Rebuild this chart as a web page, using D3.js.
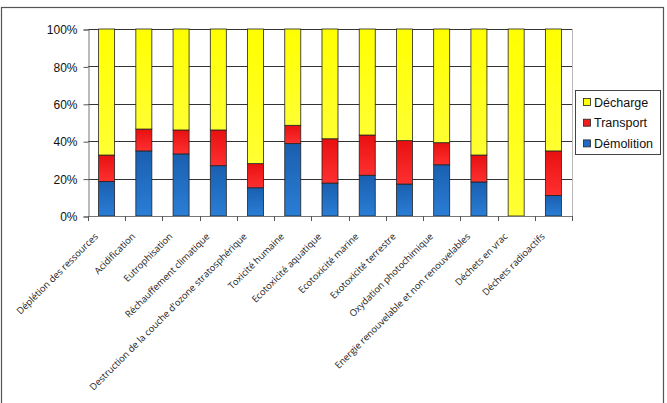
<!DOCTYPE html>
<html lang="fr">
<head>
<meta charset="UTF-8">
<title>Répartition des impacts</title>
<style>
    body {
        margin: 0;
        background: white;
    }
    svg text {
        fill: #111;
    }
    .ylab text {
        font-family: 'Liberation Sans', Arial, sans-serif;
        font-size: 12px;
    }
    .xlab text {
        font-family: 'Open Sans', sans-serif;
        font-size: 9.4px;
        fill: #222;
    }
    .legend text {
        font-family: 'Liberation Sans', Arial, sans-serif;
        font-size: 12.5px;
    }
</style>
</head>
<body>
<div id="chart"></div>
<script src="https://d3js.org/d3.v7.min.js"></script>
<script>
    const width = 667, height = 403;

    // impact categories
    const categories = [
        "Déplétion des ressources",
        "Acidification",
        "Eutrophisation",
        "Réchauffement climatique",
        "Destruction de la couche d'ozone stratosphérique",
        "Toxicité humaine",
        "Ecotoxicité aquatique",
        "Ecotoxicité marine",
        "Exotoxicité terrestre",
        "Oxydation photochimique",
        "Energie renouvelable et non renouvelables",
        "Déchets en vrac",
        "Déchets radioactifs"
    ];
    // shares in %
    const demolition = [18.5, 34.8, 33.2, 26.9, 15.1, 38.7, 17.6, 21.8, 17.1, 27.4, 18.2, 0, 11.0];
    const transport  = [14.1, 11.7, 12.8, 19.1, 12.9, 9.8, 23.7, 21.5, 23.2, 11.8, 14.4, 0, 23.8];
    const decharge   = [67.4, 53.5, 54.0, 54.0, 72.0, 51.5, 58.7, 56.7, 59.7, 60.8, 67.4, 100, 65.2];
    const yTicks = [0, 20, 40, 60, 80, 100];

    const seriesNames = ["Démolition", "Transport", "Décharge"];
    const colors = {"Démolition": "#1f6cc4", "Transport": "#f21e1e", "Décharge": "#ffff00"};

    const rows = categories.map((c, i) => ({
        cat: c,
        "Démolition": demolition[i],
        "Transport": transport[i],
        "Décharge": decharge[i]
    }));

    const plot = {left: 88, right: 572, top: 29, bottom: 216};

    const svg = d3.select("#chart").append("svg")
        .attr("width", width)
        .attr("height", height);

    const defs = svg.append("defs");
    const grads = {
        "Démolition": ["#1a5fb0", "#2a7ed6"],
        "Transport": ["#e81010", "#ff3030"],
        "Décharge": ["#ffff00", "#ffff33"]
    };
    seriesNames.forEach((s, i) => {
        const g = defs.append("linearGradient")
            .attr("id", "grad" + i)
            .attr("x1", 0).attr("y1", 0).attr("x2", 0).attr("y2", 1);
        g.append("stop").attr("offset", "0%").attr("stop-color", grads[s][0]);
        g.append("stop").attr("offset", "100%").attr("stop-color", grads[s][1]);
    });

    // outer frame
    svg.append("rect")
        .attr("x", 1.5).attr("y", 7.5)
        .attr("width", 662).attr("height", 400)
        .attr("fill", "white")
        .attr("stroke", "#555")
        .attr("stroke-width", 1.2);

    const x = d3.scaleBand()
        .domain(categories)
        .range([plot.left, plot.right])
        .paddingInner(0.57)
        .paddingOuter(0.285);

    const y = d3.scaleLinear()
        .domain([0, 100])
        .range([plot.bottom, plot.top]);

    // plot area border (right side is light)
    svg.append("line")
        .attr("x1", plot.right + 0.5).attr("x2", plot.right + 0.5)
        .attr("y1", plot.top).attr("y2", plot.bottom)
        .attr("stroke", "#bbb");

    // gridlines
    svg.append("g")
        .selectAll("line")
        .data(yTicks.filter(t => t > 0))
        .join("line")
        .attr("x1", plot.left).attr("x2", plot.right)
        .attr("y1", d => Math.round(y(d)) + 0.5)
        .attr("y2", d => Math.round(y(d)) + 0.5)
        .attr("stroke", "#333")
        .attr("stroke-width", 1);

    // y axis
    const yAxis = svg.append("g")
        .attr("class", "ylab")
        .attr("transform", `translate(${plot.left + 0.5},0.5)`)
        .call(d3.axisLeft(y).tickValues(yTicks).tickFormat(d => d + "%").tickSize(5).tickPadding(6));
    yAxis.select(".domain").attr("stroke", "#777");
    yAxis.selectAll(".tick line").attr("stroke", "#555");
    yAxis.selectAll(".tick text").attr("dy", "0.35em");

    // stacked bars
    const stack = d3.stack().keys(seriesNames)(rows);

    svg.append("g")
        .selectAll("g")
        .data(stack)
        .join("g")
        .attr("fill", (d, i) => `url(#grad${i})`)
        .selectAll("rect")
        .data(d => d.filter(p => p[1] - p[0] > 0))
        .join("rect")
        .attr("x", d => x(d.data.cat))
        .attr("y", d => y(d[1]))
        .attr("width", x.bandwidth())
        .attr("height", d => y(d[0]) - y(d[1]))
        .attr("stroke", "#222")
        .attr("stroke-width", 0.8);

    // x axis line and ticks between categories
    const xg = svg.append("g");
    xg.append("line")
        .attr("x1", plot.left).attr("x2", plot.right)
        .attr("y1", plot.bottom + 0.5).attr("y2", plot.bottom + 0.5)
        .attr("stroke", "#777");
    xg.selectAll(".xt")
        .data(d3.range(categories.length + 1))
        .join("line")
        .attr("class", "xt")
        .attr("x1", i => Math.round(plot.left + i * (plot.right - plot.left) / categories.length) + 0.5)
        .attr("x2", i => Math.round(plot.left + i * (plot.right - plot.left) / categories.length) + 0.5)
        .attr("y1", plot.bottom)
        .attr("y2", plot.bottom + 5)
        .attr("stroke", "#555");

    // rotated category labels
    svg.append("g")
        .attr("class", "xlab")
        .selectAll("text")
        .data(categories)
        .join("text")
        .attr("text-anchor", "end")
        .attr("transform", d => `translate(${x(d) + x.bandwidth() / 2 - 8},${plot.bottom + 21}) rotate(-45)`)
        .text(d => d);

    // legend
    const lg = svg.append("g").attr("class", "legend");
    lg.append("rect")
        .attr("x", 575.5).attr("y", 90.5)
        .attr("width", 85).attr("height", 64)
        .attr("fill", "white")
        .attr("stroke", "#444");
    const legendItems = ["Décharge", "Transport", "Démolition"];
    const li = lg.selectAll(".li")
        .data(legendItems)
        .join("g")
        .attr("class", "li")
        .attr("transform", (d, i) => `translate(583,${102 + i * 20.7})`);
    li.append("rect")
        .attr("x", 0.5).attr("y", -3.5)
        .attr("width", 7).attr("height", 7)
        .attr("fill", d => colors[d])
        .attr("stroke", "#222")
        .attr("stroke-width", 0.8);
    li.append("text")
        .attr("x", 11)
        .attr("dy", "0.36em")
        .text(d => d);
</script>
</body>
</html>
